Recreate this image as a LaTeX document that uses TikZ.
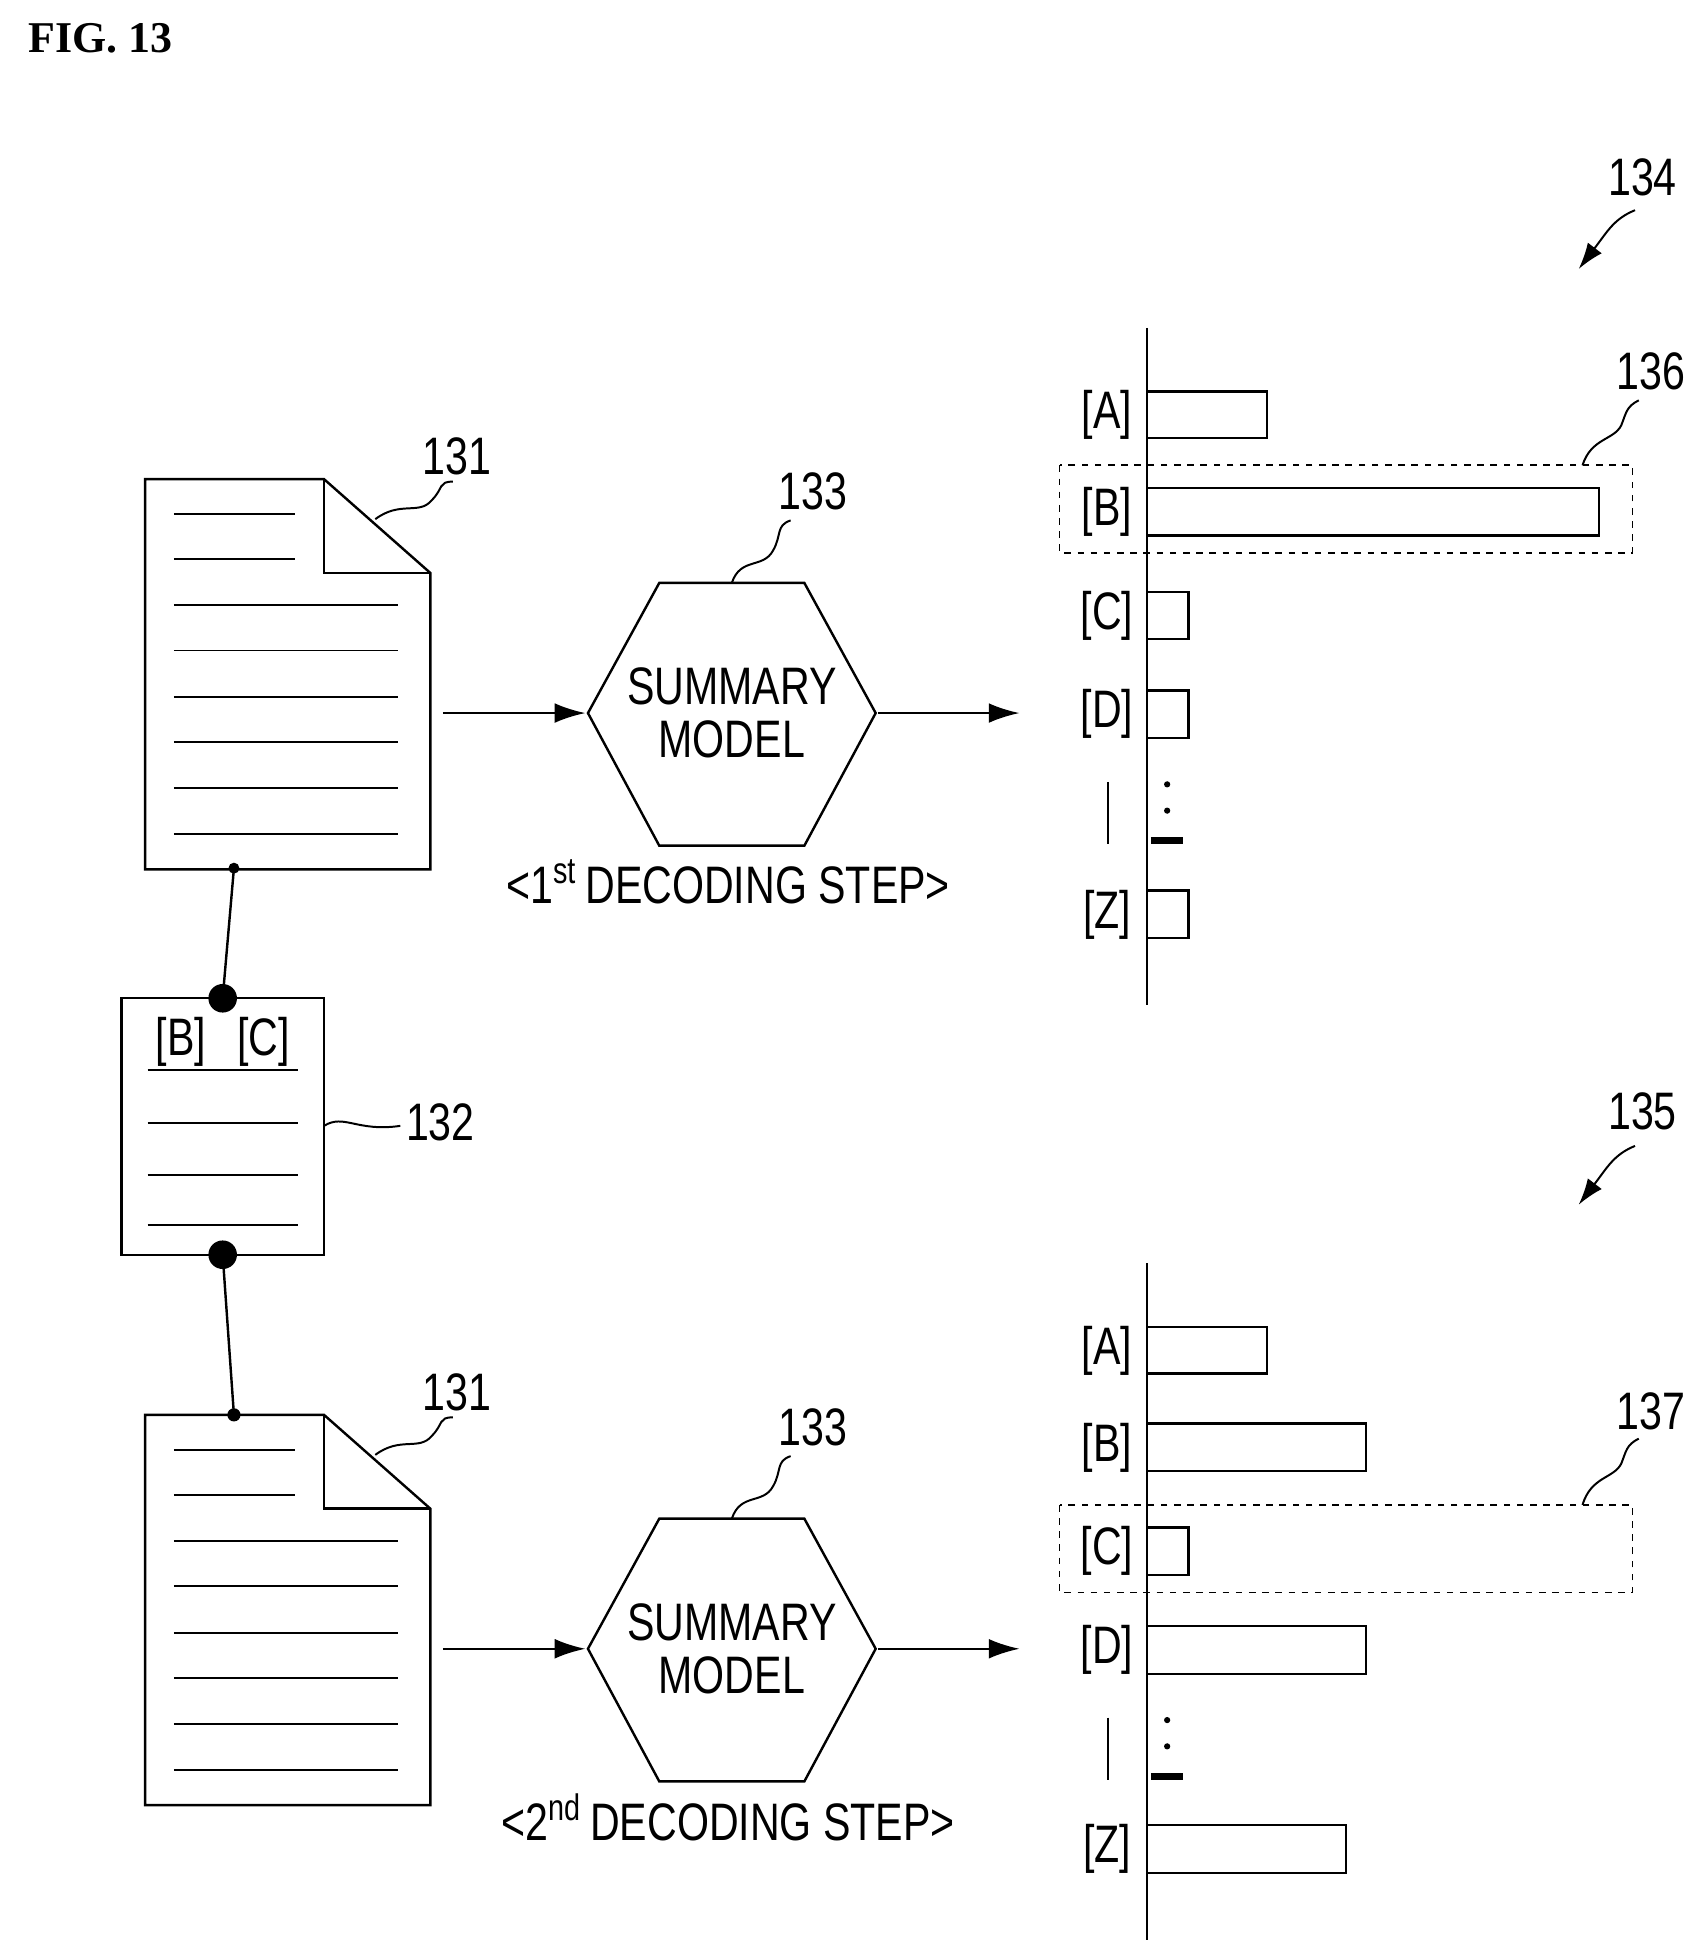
\documentclass[tikz,border=0pt]{standalone}
\usepackage{fontspec}
\setmainfont{Liberation Sans}[FakeStretch=0.78]
\newfontfamily\figfont{Liberation Serif}
\usetikzlibrary{arrows.meta}
\begin{document}
\begin{tikzpicture}[x=0.02cm,y=-0.02cm,line width=1.1pt,
 lbl/.style={font=\fontsize{24}{26}\selectfont,inner sep=0},
 bar/.style={draw,line width=1.1pt},
 dbox/.style={draw,dashed,line width=0.8pt},
 arr/.style={-{Latex[length=14pt,width=9pt]}},
 dot/.style={circle,fill,inner sep=0,minimum size=#1}]
\useasboundingbox (0,0) rectangle (1360,1562);
\node[anchor=north west,font=\figfont\bfseries\fontsize{20}{22}\selectfont] (fig) at (16,12) {FIG. 13};
\foreach \o/\s/\n [count=\i] in {0/st/1,748/nd/2}{
 \begin{scope}[yshift=-\o*0.02cm]
 \draw (116,383)--(259,383)--(344,458)--(344,695)--(116,695)--cycle;
 \draw (259,383)--(259,458)--(344,458);
 \foreach \y in {411,447} \draw[line width=0.9pt] (139,\y)--(236,\y);
 \foreach \y in {484,520,557,593,630,667} \draw[line width=0.9pt] (139,\y)--(318,\y);
 \node[lbl] (d\i) at (365,365) {131};
 \draw[line width=0.9pt] (300,415) .. controls (320,400) and (335,412) .. (345,400) .. controls (355,390) and (350,385) .. (362,385);
 \draw (470,570)--(527,466)--(643,466)--(700,570)--(643,676)--(527,676)--cycle;
 \node[lbl,align=center,font=\fontsize{24}{24}\selectfont] (m\i) at (585,570) {SUMMARY\\MODEL};
 \node[lbl] at (650,393) {133};
 \draw[line width=0.9pt] (585,466) .. controls (592,445) and (610,455) .. (618,440) .. controls (625,428) and (620,420) .. (632,416);
 \coordinate (in\i) at (354,570); \coordinate (hl\i) at (468,570);
 \coordinate (hr\i) at (702,570); \coordinate (ch\i) at (815,570);
 \draw[arr] (in\i)--(hl\i); \draw[arr] (hr\i)--(ch\i);
 \node[lbl] at (582,705) {<\n\textsuperscript{\s}\,DECODING STEP>};
 \end{scope}}
% chart 1
\draw (917,262)--(917,803);
\foreach \a/\b/\r/\t in {313/350/1013/A,390/428/1278/B,473/511/950/C,552/590/950/D,712/750/950/Z}{
 \draw[bar] (917,\a) rectangle (\r,\b);
 \node[lbl] at (885,{(\a+\b)/2}) {[\t]};}
\draw[dbox] (847,372) rectangle (1305,442);
\node[lbl] at (1320,297) {136};
\draw[line width=0.9pt] (1265,372) .. controls (1272,350) and (1290,352) .. (1296,340) .. controls (1300,330) and (1300,325) .. (1310,320);
\node[lbl] at (1313,142) {134};
\draw[line width=0.9pt,-{Latex[length=12pt,width=8pt]}] (1307,168) .. controls (1290,175) and (1285,185) .. (1262,215);
\fill (933,627) circle (2.5); \fill (933,648) circle (2.5);
\draw[line width=3pt] (920,672)--(946,672);
\draw[line width=0.9pt] (886,625)--(886,675);
% chart 2
\draw (917,1010)--(917,1551);
\foreach \a/\b/\r/\t in {1061/1098/1013/A,1138/1176/1092/B,1221/1259/950/C,1300/1338/1092/D,1459/1497/1076/Z}{
 \draw[bar] (917,\a) rectangle (\r,\b);
 \node[lbl] at (885,{(\a+\b)/2}) {[\t]};}
\draw[dbox] (847,1203) rectangle (1305,1273);
\node[lbl] at (1320,1128) {137};
\draw[line width=0.9pt] (1265,1203) .. controls (1272,1180) and (1290,1182) .. (1296,1170) .. controls (1300,1160) and (1300,1155) .. (1310,1150);
\node[lbl] at (1313,888) {135};
\draw[line width=0.9pt,-{Latex[length=12pt,width=8pt]}] (1307,916) .. controls (1290,923) and (1285,933) .. (1262,963);
\fill (933,1375) circle (2.5); \fill (933,1396) circle (2.5);
\draw[line width=3pt] (920,1420)--(946,1420);
\draw[line width=0.9pt] (886,1373)--(886,1423);
% small doc
\draw (97,798) rectangle (259,1003);
\node[lbl] (sd) at (178,833) {[B]\hspace{0.5cm}[C]};
\draw[line width=0.9pt] (118,855)--(238,855);
\foreach \y in {898,939,979} \draw[line width=0.9pt] (118,\y)--(238,\y);
\node[lbl] at (352,897) {132};
\draw[line width=0.9pt] (259,900) .. controls (275,890) and (285,905) .. (320,900);
\node[dot=5pt] (p1) at (187,694) {};
\node[dot=13pt] (p2) at (178,798) {};
\node[dot=13pt] (p3) at (178,1003) {};
\node[dot=6pt] (p4) at (187,1131) {};
\draw (p1.center)--(p2.center); \draw (p3.center)--(p4.center);
\end{tikzpicture}
\end{document}
